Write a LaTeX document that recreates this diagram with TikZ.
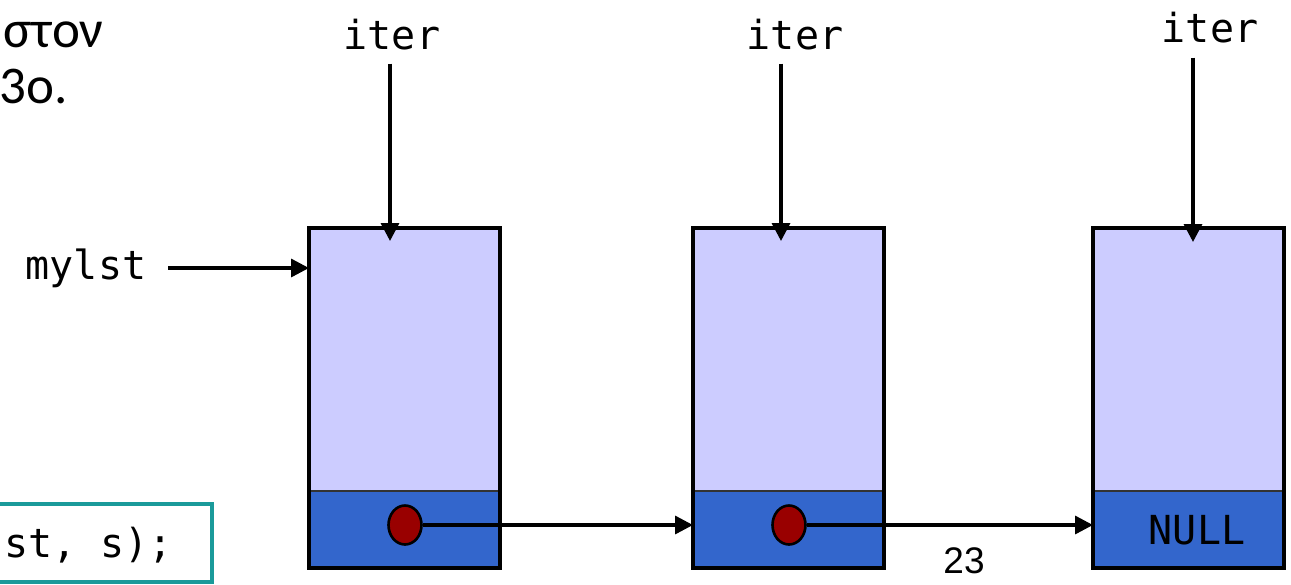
\documentclass[tikz,border=0pt]{standalone}
\usepackage{fontspec}
\usetikzlibrary{arrows.meta,calc,shapes.geometric}
\newfontfamily\monof{DejaVu Sans Mono}
\newfontfamily\greekf{Carlito}
\newfontfamily\numf{Liberation Sans}
\definecolor{datafill}{HTML}{CCCCFF}
\definecolor{nextfill}{HTML}{3366CC}
\definecolor{dotfill}{HTML}{990000}
\definecolor{codeframe}{HTML}{1A9A9A}
\tikzset{
  datapart/.style={fill=datafill, draw=none, minimum width=191pt, minimum height=263pt, inner sep=0, outer sep=0},
  nextpart/.style={fill=nextfill, draw=none, minimum width=191pt, minimum height=77pt, inner sep=0, outer sep=0},
  dot/.style={ellipse, fill=dotfill, draw=black, line width=2.6pt, minimum width=33pt, minimum height=39pt, inner sep=0},
  ptr/.style={line width=3.4pt, -{Triangle[length=18pt,width=18pt]}},
  monolabel/.style={font=\monof\fontsize{40}{46}\selectfont, inner sep=0},
  greeklabel/.style={font=\greekf\fontsize{53}{60}\selectfont, inner sep=0, anchor=base west},
}
\begin{document}
\begin{tikzpicture}[x=1pt,y=-1pt]
\useasboundingbox (0,0) rectangle (1291,584);
% Greek caption lines
\node[greeklabel] (cap1) at (3,47) {στον};
\node[greeklabel] (cap2) at (-1,103) {3ο.};
% list cells
\node[datapart] (d1) at (404.5,359.5) {};
\node[nextpart] (p1) at (404.5,529.5) {};
\node[datapart] (d2) at (788.5,359.5) {};
\node[nextpart] (p2) at (788.5,529.5) {};
\node[datapart] (d3) at (1188.5,359.5) {};
\node[nextpart] (p3) at (1188.5,529.5) {};
\foreach \i in {1,2,3}{
  \draw[line width=2.2pt, draw=black!80] (d\i.south west) -- (d\i.south east);
  \draw[line width=4pt] (d\i.north west) rectangle (p\i.south east);
}
\node[dot] (e1) at (405,525) {};
\node[dot] (e2) at (789,525) {};
\node[monolabel, anchor=center] (null) at (1197,530) {NULL};
% iter labels and pointers
\node[monolabel] (it1) at (392,35) {iter};
\node[monolabel] (it2) at (795,35) {iter};
\node[monolabel] (it3) at (1210,28) {iter};
\draw[ptr] ([xshift=-2pt,yshift=-13pt]it1.south) -- ([xshift=-2pt,yshift=-13pt]it1.south |- d1.north);
\draw[ptr] ([xshift=-14pt,yshift=-13pt]it2.south) -- ([xshift=-14pt,yshift=-13pt]it2.south |- d2.north);
\draw[ptr] ([xshift=-17pt,yshift=-14pt]it3.south) -- ([xshift=-17pt,yshift=-14pt]it3.south |- d3.north);
% head pointer
\node[monolabel] (head) at (86,268) {mylst};
\coordinate (headtip) at (d1.west |- head);
\draw[ptr] ([xshift=22pt]head.east) -- (headtip);
% next pointers
\draw[ptr] (e1.east) -- (e1.east -| p2.west);
\draw[ptr] (e2.east) -- (e2.east -| p3.west);
% code fragment
\draw[line width=4pt, draw=codeframe] (-20,504) rectangle (212,582);
\node[monolabel, anchor=base west] (code) at (4,557) {st, s);};
% page number
\node[inner sep=0, font=\numf\fontsize{37}{40}\selectfont] (pg) at (964,561) {23};
\end{tikzpicture}
\end{document}
